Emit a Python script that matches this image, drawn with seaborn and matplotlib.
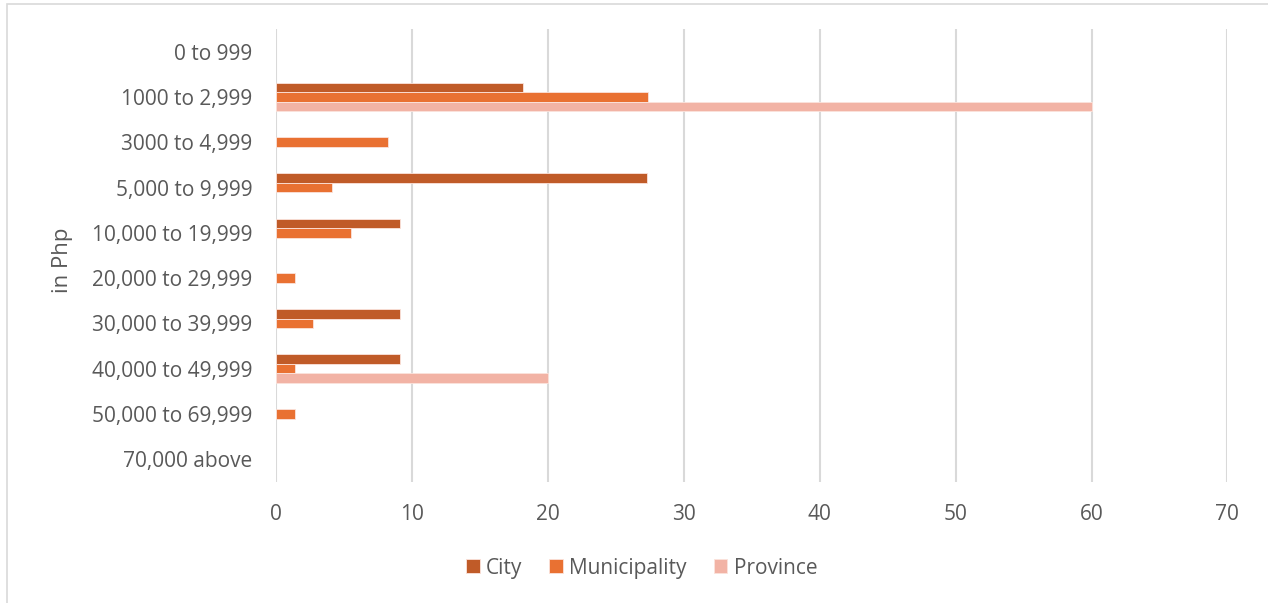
import numpy as np
import pandas as pd
import seaborn as sns
import matplotlib.pyplot as plt
from matplotlib.patches import Rectangle

brackets = ["0 to 999", "1000 to 2,999", "3000 to 4,999", "5,000 to 9,999",
            "10,000 to 19,999", "20,000 to 29,999", "30,000 to 39,999",
            "40,000 to 49,999", "50,000 to 69,999", "70,000 above"]
groups = ["City", "Municipality", "Province"]
city = [np.nan, 18.18, np.nan, 27.27, 9.09, np.nan, 9.09, 9.09, np.nan, np.nan]
municipality = [np.nan, 27.4, 8.22, 4.11, 5.48, 1.37, 2.74, 1.37, 1.37, np.nan]
province = [np.nan, 60, np.nan, np.nan, np.nan, np.nan, np.nan, 20, np.nan, np.nan]
colors = ["#C05B28", "#E97132", "#F2B3A5"]

df = pd.DataFrame({"bracket": brackets * 3,
                   "group": np.repeat(groups, len(brackets)),
                   "value": city + municipality + province})

sns.set_style("white")
plt.rcParams["font.family"] = ["Open Sans", "DejaVu Sans"]
txt = "#595959"

fig = plt.figure(figsize=(12.68, 6.03), dpi=100)
ax = fig.add_axes([0.2177, 0.2007, 0.7503, 0.7512])

sns.barplot(data=df, x="value", y="bracket", hue="group", order=brackets,
            hue_order=groups, palette=colors, saturation=1, orient="h",
            width=0.63, edgecolor="#FBE3DC", linewidth=0.6, errorbar=None,
            ax=ax, zorder=3)

ax.set_xlim(0, 70)
ax.set_ylim(9.5, -0.5)
ax.set_xticks(range(0, 71, 10))
ax.grid(axis="x", color="#D9D9D9", linewidth=1.5, zorder=0)
ax.set_axisbelow(True)
for s in ax.spines.values():
    s.set_visible(False)
ax.tick_params(axis="both", length=0, labelsize=15, colors=txt)
ax.tick_params(axis="y", pad=17)
ax.tick_params(axis="x", pad=16)
ax.set_xlabel("")
ax.set_ylabel("in Php", fontsize=16, color=txt)
ax.yaxis.set_label_coords(-0.213, 0.49)

handles, labels = ax.get_legend_handles_labels()
ax.legend_.remove()
fig.legend(handles, labels, loc="center", bbox_to_anchor=(0.506, 0.058), ncol=3,
           frameon=False, fontsize=15, labelcolor=txt, handlelength=0.65,
           handleheight=0.65, handletextpad=0.3, columnspacing=1.3)

fig.patches.append(Rectangle((7 / 1268, -0.1), 1.2, 1.1 - 4 / 603,
                             transform=fig.transFigure, fill=False,
                             edgecolor="#D9D9D9", linewidth=1.2))

fig.savefig("out.png", dpi=100, facecolor="white")
